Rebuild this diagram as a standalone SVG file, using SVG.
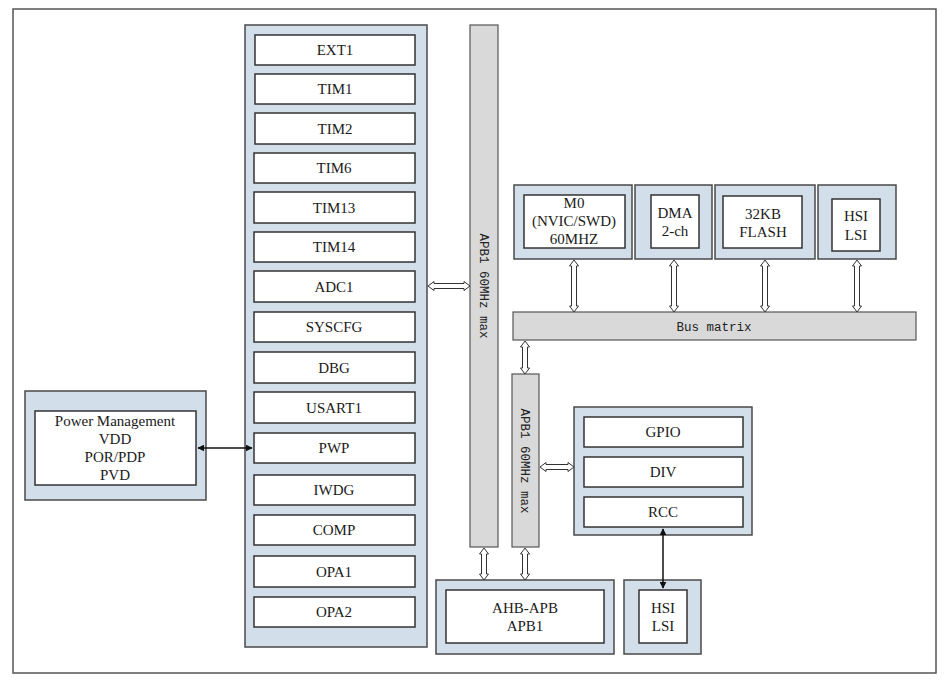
<svg xmlns="http://www.w3.org/2000/svg" width="951" height="683" viewBox="0 0 951 683">
<defs>
<style>
.frame{fill:#fff;stroke:#555;stroke-width:1.5}
.cont{fill:#d3deeb;stroke:#4a4a4a;stroke-width:1.5}
.box{fill:#fff;stroke:#333;stroke-width:1.5}
.bar{fill:#d9d9d9;stroke:#555;stroke-width:1.2}
.t{font-family:"Liberation Serif","Times New Roman",serif;font-size:15px;fill:#1a1a1a;text-anchor:middle}
.m{font-family:"Liberation Mono","Courier New",monospace;font-size:12.5px;fill:#222;text-anchor:middle}
.ha{fill:#fff;stroke:#333;stroke-width:1}
.sl{stroke:#111;stroke-width:1.5;fill:none}
</style>
<marker id="ah" viewBox="0 0 10 10" refX="9" refY="5" markerWidth="7" markerHeight="7" orient="auto-start-reverse" markerUnits="userSpaceOnUse">
<path d="M0,0 L10,5 L0,10 Z" fill="#111"/>
</marker>
</defs>
<rect x="0" y="0" width="951" height="683" fill="#fff"/>
<rect class="frame" x="13" y="9" width="923" height="664"/>

<g id="apb-column">
<rect class="cont" x="245" y="25" width="182" height="622"/>
<g id="EXT1"><rect class="box" x="255" y="35" width="160" height="30"/><text class="t" x="335" y="55">EXT1</text></g>
<g id="TIM1"><rect class="box" x="255" y="74" width="160" height="30"/><text class="t" x="335" y="94">TIM1</text></g>
<g id="TIM2"><rect class="box" x="255" y="113" width="160" height="31"/><text class="t" x="335" y="134">TIM2</text></g>
<g id="TIM6"><rect class="box" x="254" y="153" width="161" height="30"/><text class="t" x="334" y="173">TIM6</text></g>
<g id="TIM13"><rect class="box" x="254" y="192" width="161" height="31"/><text class="t" x="334" y="213">TIM13</text></g>
<g id="TIM14"><rect class="box" x="254" y="232" width="161" height="30"/><text class="t" x="334" y="252">TIM14</text></g>
<g id="ADC1"><rect class="box" x="254" y="271" width="161" height="31"/><text class="t" x="334" y="292">ADC1</text></g>
<g id="SYSCFG"><rect class="box" x="254" y="312" width="161" height="30"/><text class="t" x="334" y="332">SYSCFG</text></g>
<g id="DBG"><rect class="box" x="254" y="352" width="161" height="31"/><text class="t" x="334" y="373">DBG</text></g>
<g id="USART1"><rect class="box" x="254" y="392" width="161" height="31"/><text class="t" x="334" y="413">USART1</text></g>
<g id="PWP"><rect class="box" x="254" y="433" width="161" height="30"/><text class="t" x="334" y="453">PWP</text></g>
<g id="IWDG"><rect class="box" x="254" y="475" width="161" height="30"/><text class="t" x="334" y="495">IWDG</text></g>
<g id="COMP"><rect class="box" x="254" y="515" width="161" height="30"/><text class="t" x="334" y="535">COMP</text></g>
<g id="OPA1"><rect class="box" x="254" y="556" width="161" height="31"/><text class="t" x="334" y="577">OPA1</text></g>
<g id="OPA2"><rect class="box" x="254" y="597" width="161" height="30"/><text class="t" x="334" y="617">OPA2</text></g>
</g>

<g id="power">
<rect class="cont" x="25" y="391" width="181" height="109"/>
<rect class="box" x="35" y="411" width="161" height="74"/>
<text class="t" x="115" y="426">Power Management</text>
<text class="t" x="115" y="444">VDD</text>
<text class="t" x="115" y="462">POR/PDP</text>
<text class="t" x="115" y="480">PVD</text>
</g>

<g id="apb1-main">
<rect class="bar" x="470" y="25" width="28" height="522"/>
<text class="m" transform="translate(480,286) rotate(90)">APB1 60MHz max</text>
</g>

<g id="apb1-second">
<rect class="bar" x="512" y="374" width="27" height="173"/>
<text class="m" transform="translate(521,461) rotate(90)">APB1 60MHz max</text>
</g>

<g id="bus-matrix">
<rect class="bar" x="513" y="312" width="403" height="28"/>
<text class="m" x="714" y="331">Bus matrix</text>
</g>

<g id="M0">
<rect class="cont" x="514" y="185" width="118" height="74"/>
<rect class="box" x="524" y="195" width="101" height="53"/>
<text class="t" x="574" y="208">M0</text>
<text class="t" x="574" y="226">(NVIC/SWD)</text>
<text class="t" x="574" y="244">60MHZ</text>
</g>

<g id="DMA">
<rect class="cont" x="635" y="185" width="77" height="74"/>
<rect class="box" x="651" y="195" width="48" height="53"/>
<text class="t" x="675" y="218">DMA</text>
<text class="t" x="675" y="236">2-ch</text>
</g>

<g id="FLASH">
<rect class="cont" x="715" y="185" width="100" height="74"/>
<rect class="box" x="723" y="196" width="79" height="52"/>
<text class="t" x="763" y="219">32KB</text>
<text class="t" x="763" y="237">FLASH</text>
</g>

<g id="HSI-top">
<rect class="cont" x="818" y="185" width="78" height="74"/>
<rect class="box" x="832" y="199" width="48" height="52"/>
<text class="t" x="856" y="221">HSI</text>
<text class="t" x="856" y="240">LSI</text>
</g>

<g id="gpio-group">
<rect class="cont" x="574" y="407" width="178" height="128"/>
<g id="GPIO"><rect class="box" x="584" y="417" width="159" height="30"/><text class="t" x="663" y="437">GPIO</text></g>
<g id="DIV"><rect class="box" x="584" y="457" width="159" height="30"/><text class="t" x="663" y="477">DIV</text></g>
<g id="RCC"><rect class="box" x="584" y="497" width="159" height="30"/><text class="t" x="663" y="517">RCC</text></g>
</g>

<g id="AHB-APB">
<rect class="cont" x="436" y="580" width="178" height="74"/>
<rect class="box" x="446" y="590" width="158" height="53"/>
<text class="t" x="525" y="613">AHB-APB</text>
<text class="t" x="525" y="631">APB1</text>
</g>

<g id="HSI-bottom">
<rect class="cont" x="624" y="580" width="77" height="74"/>
<rect class="box" x="639" y="590" width="48" height="53"/>
<text class="t" x="663" y="613">HSI</text>
<text class="t" x="663" y="631">LSI</text>
</g>

<g id="connectors">
<!-- hollow horizontal: column to APB1 -->
<path class="ha" d="M428,286 L434,281.5 L434,283.5 L464,283.5 L464,281.5 L470,286 L464,290.5 L464,288.5 L434,288.5 L434,290.5 Z"/>
<!-- hollow horizontal: APB1 second to GPIO group -->
<path class="ha" d="M540,467 L546,462.5 L546,464.5 L568,464.5 L568,462.5 L574,467 L568,471.5 L568,469.5 L546,469.5 L546,471.5 Z"/>
<!-- hollow verticals: top boxes to bus -->
<path class="ha" d="M574,260 L578.5,266 L576.5,266 L576.5,306 L578.5,306 L574,312 L569.5,306 L571.5,306 L571.5,266 L569.5,266 Z"/>
<path class="ha" d="M674,260 L678.5,266 L676.5,266 L676.5,306 L678.5,306 L674,312 L669.5,306 L671.5,306 L671.5,266 L669.5,266 Z"/>
<path class="ha" d="M765,260 L769.5,266 L767.5,266 L767.5,306 L769.5,306 L765,312 L760.5,306 L762.5,306 L762.5,266 L760.5,266 Z"/>
<path class="ha" d="M857,260 L861.5,266 L859.5,266 L859.5,306 L861.5,306 L857,312 L852.5,306 L854.5,306 L854.5,266 L852.5,266 Z"/>
<!-- bus to APB1 second -->
<path class="ha" d="M525,341 L529.5,347 L527.5,347 L527.5,368 L529.5,368 L525,374 L520.5,368 L522.5,368 L522.5,347 L520.5,347 Z"/>
<!-- APB1 bars to AHB-APB -->
<path class="ha" d="M484,548 L488.5,554 L486.5,554 L486.5,574 L488.5,574 L484,580 L479.5,574 L481.5,574 L481.5,554 L479.5,554 Z"/>
<path class="ha" d="M525,548 L529.5,554 L527.5,554 L527.5,574 L529.5,574 L525,580 L520.5,574 L522.5,574 L522.5,554 L520.5,554 Z"/>
<!-- solid arrows -->
<line class="sl" x1="198" y1="448" x2="252" y2="448" marker-start="url(#ah)" marker-end="url(#ah)"/>
<line class="sl" x1="663" y1="529" x2="663" y2="588" marker-start="url(#ah)" marker-end="url(#ah)"/>
</g>
</svg>
